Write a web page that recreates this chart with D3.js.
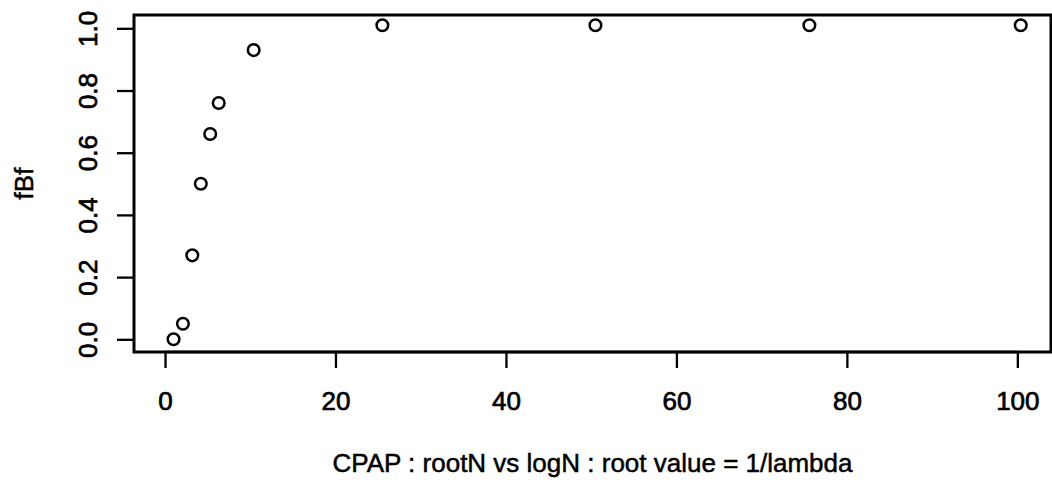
<!DOCTYPE html>
<html>
<head>
<meta charset="utf-8">
<script src="https://cdn.jsdelivr.net/npm/d3@7"></script>
<style>
  html, body { margin: 0; padding: 0; background: #fff; }
  svg { display: block; }
  text { font-family: "Liberation Sans", Arial, Helvetica, sans-serif; fill: #000; }
</style>
</head>
<body>
<svg id="chart" width="1052" height="482"></svg>
<script>
// root value (1/lambda) and the resulting fBf
const rootValues = [1, 2.1, 3.2, 4.2, 5.3, 6.3, 10.4, 25.5, 50.5, 75.6, 100.4];
const fBfValues  = [0, 0.05, 0.27, 0.5, 0.66, 0.76, 0.93, 1.01, 1.01, 1.01, 1.01];
const xTicks = [0, 20, 40, 60, 80, 100];
const yTicks = [0, 0.2, 0.4, 0.6, 0.8, 1.0];
const xTitle = "CPAP : rootN vs logN : root value = 1/lambda";
const yTitle = "fBf";

const svg = d3.select("#chart");
const box = { left: 134, right: 1051, top: 15, bottom: 352 };

const x = d3.scaleLinear().domain([-3.64, 103.95]).range([box.left, box.right]);
const y = d3.scaleLinear().domain([-0.0408, 1.0428]).range([box.bottom, box.top]);

const ink = "#000";
const fontSize = 26;
const textStroke = 0.7;

// x axis: ticks below the box, line spans first to last tick
const xAxis = d3.axisBottom(x).tickValues(xTicks).tickFormat(d3.format("d"))
  .tickSize(16).tickSizeOuter(0);
const gx = svg.append("g").attr("transform", `translate(0,${box.bottom})`).call(xAxis);
gx.select(".domain").remove();
gx.selectAll(".tick line").attr("stroke", ink).attr("stroke-width", 2.3);
gx.selectAll(".tick text")
  .attr("font-size", fontSize).attr("dy", null).attr("y", 58)
  .attr("stroke", ink).attr("stroke-width", textStroke);
gx.append("line")
  .attr("x1", x(xTicks[0])).attr("x2", x(xTicks[xTicks.length - 1]))
  .attr("stroke", ink).attr("stroke-width", 2.3);

// y axis: rotated labels, as in base graphics
const yAxis = d3.axisLeft(y).tickValues(yTicks).tickFormat(d3.format(".1f"))
  .tickSize(17).tickSizeOuter(0);
const gy = svg.append("g").attr("transform", `translate(${box.left},0)`).call(yAxis);
gy.select(".domain").remove();
gy.selectAll(".tick line").attr("stroke", ink).attr("stroke-width", 2.3);
gy.selectAll(".tick text")
  .attr("font-size", fontSize).attr("x", 0).attr("y", 0).attr("dy", null)
  .attr("text-anchor", "middle")
  .attr("transform", "translate(-37,0) rotate(-90)")
  .attr("stroke", ink).attr("stroke-width", textStroke);

// plot frame
svg.append("rect")
  .attr("x", box.left).attr("y", box.top)
  .attr("width", box.right - box.left).attr("height", box.bottom - box.top)
  .attr("fill", "none").attr("stroke", ink).attr("stroke-width", 3);

// points as open circles
svg.append("g").selectAll("circle")
  .data(rootValues.map((v, i) => [v, fBfValues[i]]))
  .join("circle")
  .attr("cx", d => x(d[0])).attr("cy", d => y(d[1]))
  .attr("r", 5.8)
  .attr("fill", "none").attr("stroke", ink).attr("stroke-width", 2.5);

// axis titles
svg.append("text")
  .attr("x", (box.left + box.right) / 2).attr("y", 472)
  .attr("text-anchor", "middle").attr("font-size", fontSize)
  .attr("stroke", ink).attr("stroke-width", 0.5)
  .text(xTitle);

svg.append("text")
  .attr("transform", `translate(33,${(box.top + box.bottom) / 2}) rotate(-90)`)
  .attr("text-anchor", "middle").attr("font-size", fontSize)
  .attr("stroke", ink).attr("stroke-width", 0.5)
  .text(yTitle);
</script>
</body>
</html>
